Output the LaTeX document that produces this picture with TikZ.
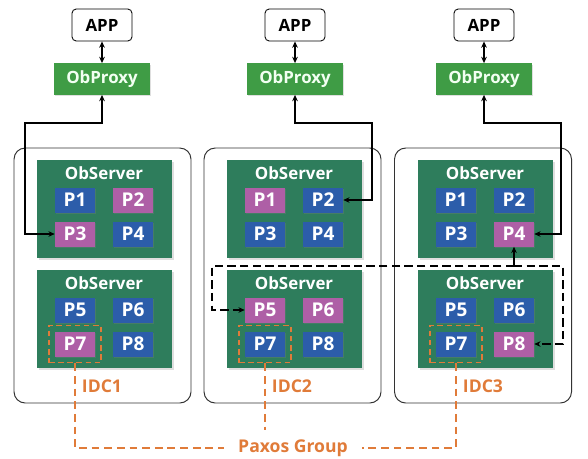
\documentclass[tikz,border=0pt]{standalone}
\usepackage{fontspec}
\setmainfont{Open Sans}
\usepackage{xcolor}
\usepackage{tikz}
\usetikzlibrary{arrows.meta}
\usetikzlibrary{shadows}
\definecolor{srvgreen}{HTML}{2E7D5C}
\definecolor{pxgreen}{HTML}{3F9C45}
\definecolor{pblue}{HTML}{2C5DAA}
\definecolor{ppink}{HTML}{AE5FA6}
\definecolor{paxorange}{HTML}{E07B39}
\tikzset{>={Stealth[length=4.5pt,width=4pt]}}
\tikzset{txt/.style={font=\fontsize{12}{14}\selectfont\bfseries}}
\tikzset{appbox/.style={txt,draw,rounded corners=3pt,line width=0.6pt,minimum width=1.5cm,minimum height=0.8cm}}
\tikzset{proxybox/.style={txt,fill=pxgreen,text=green!5,minimum width=2.4cm,minimum height=0.78cm,drop shadow={opacity=0.25,shadow xshift=1pt,shadow yshift=-1pt}}}
\tikzset{idcbox/.style={draw=black!80,line width=0.7pt,rounded corners=8pt,minimum width=4.425cm,minimum height=6.375cm}}
\tikzset{srvbox/.style={fill=srvgreen,minimum width=3.375cm,minimum height=2.45cm,drop shadow={opacity=0.25,shadow xshift=1.5pt,shadow yshift=-1.5pt}}}
\tikzset{srvlabel/.style={txt,text=white}}
\tikzset{pb/.style={font=\fontsize{13.5}{15}\selectfont\bfseries,fill=pblue,text=white,minimum width=1cm,minimum height=0.625cm,inner sep=0pt,drop shadow={opacity=0.3,shadow xshift=1pt,shadow yshift=-1pt}}}
\tikzset{pp/.style={pb,fill=ppink}}
\tikzset{paxbox/.style={draw=paxorange,line width=1.2pt,dash pattern=on 4pt off 2.5pt,minimum width=1.3cm,minimum height=0.925cm}}
\tikzset{paxline/.style={draw=paxorange,line width=1.2pt,dash pattern=on 5.5pt off 3.5pt}}
\tikzset{paxlabel/.style={font=\fontsize{12.5}{14}\selectfont\bfseries,text=paxorange}}
\tikzset{link/.style={line width=1.2pt}}

\begin{document}
\begin{tikzpicture}
	\useasboundingbox (0,0) rectangle (14.7,11.45);
	% apps and proxies
	\node[appbox] (app1) at (2.55,10.825) {APP};
	\node[appbox] (app2) at (7.375,10.825) {APP};
	\node[appbox] (app3) at (12.1,10.825) {APP};
	\node[proxybox] (px1) at (2.55,9.475) {ObProxy};
	\node[proxybox] (px2) at (7.375,9.475) {ObProxy};
	\node[proxybox] (px3) at (12.1,9.475) {ObProxy};
	\draw[link,<->] (app1) -- (px1);
	\draw[link,<->] (app2) -- (px2);
	\draw[link,<->] (app3) -- (px3);

	% data centres
	\node[idcbox] (idc1) at (2.5625,4.5625) {};
	\node[idcbox] (idc2) at (7.3125,4.5625) {};
	\node[idcbox] (idc3) at (12.075,4.5625) {};

	% IDC1
	\node[srvbox] (s1a) at (2.6,6.225) {};
	\node[srvbox] (s1b) at (2.6,3.475) {};
	\node[srvlabel] at (2.6,7.125) {ObServer};
	\node[srvlabel] at (2.6,4.375) {ObServer};
	\node[pb] (a1) at (1.875,6.45) {P1};
	\node[pp] (a2) at (3.325,6.45) {P2};
	\node[pp] (a3) at (1.875,5.6) {P3};
	\node[pb] (a4) at (3.325,5.6) {P4};
	\node[pb] (a5) at (1.875,3.7) {P5};
	\node[pb] (a6) at (3.325,3.7) {P6};
	\node[pp] (a7) at (1.875,2.85) {P7};
	\node[pb] (a8) at (3.325,2.85) {P8};
	\node[paxlabel] (l1) at (2.55,1.8) {IDC1};

	% IDC2
	\node[srvbox] (s2a) at (7.35,6.225) {};
	\node[srvbox] (s2b) at (7.35,3.475) {};
	\node[srvlabel] at (7.35,7.125) {ObServer};
	\node[srvlabel] at (7.35,4.375) {ObServer};
	\node[pp] (b1) at (6.625,6.45) {P1};
	\node[pb] (b2) at (8.075,6.45) {P2};
	\node[pb] (b3) at (6.625,5.6) {P3};
	\node[pb] (b4) at (8.075,5.6) {P4};
	\node[pp] (b5) at (6.625,3.7) {P5};
	\node[pp] (b6) at (8.075,3.7) {P6};
	\node[pb] (b7) at (6.625,2.85) {P7};
	\node[pb] (b8) at (8.075,2.85) {P8};
	\node[paxlabel] (l2) at (7.3,1.8) {IDC2};

	% IDC3
	\node[srvbox] (s3a) at (12.125,6.225) {};
	\node[srvbox] (s3b) at (12.125,3.475) {};
	\node[srvlabel] at (12.125,7.125) {ObServer};
	\node[srvlabel] at (12.125,4.375) {ObServer};
	\node[pb] (c1) at (11.4,6.45) {P1};
	\node[pb] (c2) at (12.85,6.45) {P2};
	\node[pb] (c3) at (11.4,5.6) {P3};
	\node[pp] (c4) at (12.85,5.6) {P4};
	\node[pb] (c5) at (11.4,3.7) {P5};
	\node[pb] (c6) at (12.85,3.7) {P6};
	\node[pb] (c7) at (11.4,2.85) {P7};
	\node[pp] (c8) at (12.85,2.85) {P8};
	\node[paxlabel] (l3) at (12.075,1.8) {IDC3};

	% proxy routes
	\coordinate (k1) at (0.625,8.375);
	\coordinate (k2) at (9.3,8.375);
	\coordinate (k3) at (14.025,8.375);
	\draw[link,<->] (px1.south) |- (k1) |- (a3.west);
	\draw[link,<->] (px2.south) |- (k2) |- (b2.east);
	\draw[link,<->] (px3.south) |- (k3) |- (c4.east);

	% replication from P4
	\coordinate (dl) at (5.3,4.8);
	\coordinate (dr) at (14.075,4.8);
	\coordinate (j) at (c4.south |- dl);
	\draw[link,dash pattern=on 6pt off 3pt,->] (j) -- (dl) |- (b5.west);
	\draw[link,dash pattern=on 6pt off 3pt,->] (j) -- (dr) |- (c8.east);
	\draw[link,->] (j) -- (c4.south);

	% paxos group
	\node[paxbox] (q1) at (a7) {};
	\node[paxbox] (q2) at (b7) {};
	\node[paxbox] (q3) at (c7) {};
	\node[paxlabel,inner xsep=0.35cm] (pg) at (7.325,0.25) {Paxos Group};
	\coordinate (g2) at (q2.south |- 0,0.7);
	\path[paxline] (q1.south) |- (pg.west);
	\path[paxline] (q3.south) |- (pg.east);
	\path[paxline] (q2.south) -- (g2);
\end{tikzpicture}
\end{document}
